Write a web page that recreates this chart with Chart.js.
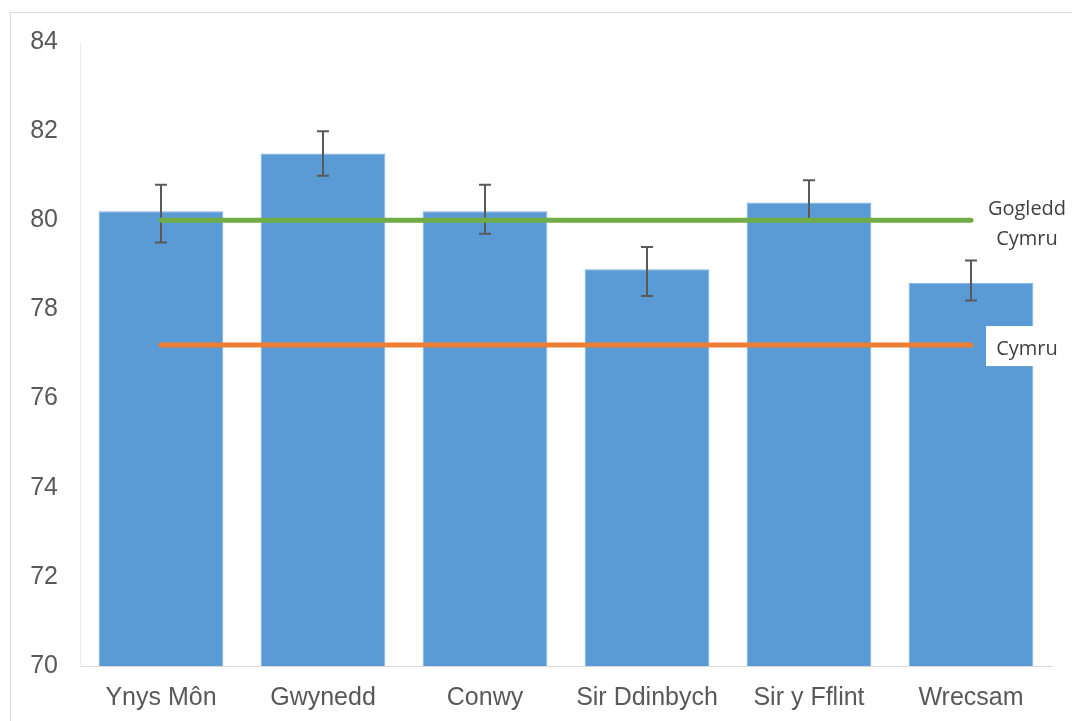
<!DOCTYPE html>
<html>
<head>
<meta charset="utf-8">
<script src="https://cdn.jsdelivr.net/npm/chart.js@4/dist/chart.umd.min.js"></script>
<style>
  html, body { margin: 0; padding: 0; background: #fff; overflow: hidden; }
  #frame { position: absolute; left: 10px; top: 12px; width: 1200px; height: 800px;
           border-left: 1px solid #d9d9d9; border-top: 1px solid #d9d9d9; }
  #wrap { position: absolute; left: 0; top: 0; width: 1072px; height: 721px; }
</style>
</head>
<body>
<div id="frame"></div>
<div id="wrap"><canvas id="myChart" width="1072" height="721"></canvas></div>
<script>
const areas = ["Ynys Môn", "Gwynedd", "Conwy", "Sir Ddinbych", "Sir y Fflint", "Wrecsam"];
const values = [80.2, 81.5, 80.2, 78.9, 80.4, 78.6];
const lowCI = [79.5, 81.0, 79.7, 78.3, 80.0, 78.2];
const highCI = [80.8, 82.0, 80.8, 79.4, 80.9, 79.1];
const northWales = [80.0, 80.0, 80.0, 80.0, 80.0, 80.0];
const wales = [77.2, 77.2, 77.2, 77.2, 77.2, 77.2];
const yTicks = [70, 72, 74, 76, 78, 80, 82, 84];

// error bars on the bar dataset, drawn before the lines go on top
const errorBars = {
  id: "errorBars",
  afterDatasetDraw(chart, args) {
    if (args.index !== 0) return;
    const ctx = chart.ctx;
    const y = chart.scales.y;
    const meta = chart.getDatasetMeta(0);
    ctx.save();
    ctx.strokeStyle = "#595959";
    ctx.lineWidth = 2;
    meta.data.forEach((bar, i) => {
      const top = y.getPixelForValue(highCI[i]);
      const bot = y.getPixelForValue(lowCI[i]);
      ctx.beginPath();
      ctx.moveTo(bar.x, top); ctx.lineTo(bar.x, bot);
      ctx.moveTo(bar.x - 6, top); ctx.lineTo(bar.x + 6, top);
      ctx.moveTo(bar.x - 6, bot); ctx.lineTo(bar.x + 6, bot);
      ctx.stroke();
    });
    ctx.restore();
  }
};

// text at the right end of each reference line
const lineLabels = {
  id: "lineLabels",
  afterDraw(chart) {
    const ctx = chart.ctx;
    ctx.save();
    ctx.font = "20px 'Open Sans'";
    ctx.textAlign = "center";
    ctx.textBaseline = "middle";
    chart.data.datasets.forEach((ds, di) => {
      if (!ds.endLabel) return;
      const pts = chart.getDatasetMeta(di).data;
      const p = pts[pts.length - 1];
      const cx = p.x + 56;
      const lines = ds.endLabel;
      const lh = 30;
      const y0 = p.y + 4 - (lines.length - 1) * lh / 2;
      if (ds.labelBox) {
        ctx.fillStyle = "#fff";
        ctx.fillRect(cx - 41, p.y - 19, 80, 40);
      }
      ctx.fillStyle = "#404040";
      lines.forEach((t, k) => ctx.fillText(t, cx, y0 + k * lh));
    });
    ctx.restore();
  }
};

const ctx = document.getElementById("myChart").getContext("2d");
const myChart = new Chart(ctx, {
  type: "bar",
  data: {
    labels: areas,
    datasets: [
      {
        label: "Ardal",
        data: values,
        backgroundColor: "#5B9BD5",
        borderColor: "#7FB1E0",
        borderWidth: 1,
        categoryPercentage: 1,
        barPercentage: 0.77,
        order: 3,
      },
      {
        type: "line",
        label: "Gogledd Cymru",
        data: northWales,
        borderColor: "#70AD47",
        borderWidth: 5,
        borderCapStyle: "round",
        pointRadius: 0,
        endLabel: ["Gogledd", "Cymru"],
        order: 1,
      },
      {
        type: "line",
        label: "Cymru",
        data: wales,
        borderColor: "#ED7D31",
        borderWidth: 5,
        borderCapStyle: "round",
        pointRadius: 0,
        endLabel: ["Cymru"],
        labelBox: true,
        order: 2,
      },
    ],
  },
  options: {
    responsive: false,
    animation: false,
    layout: { padding: { top: 42, right: 20, bottom: 0, left: 0 } },
    plugins: { legend: { display: false }, tooltip: { enabled: false } },
    scales: {
      x: {
        grid: { display: false, drawTicks: false },
        border: { color: "#d9d9d9", width: 1 },
        ticks: { color: "#595959", font: { family: "'Liberation Sans', Arial", size: 25 }, padding: 17, maxRotation: 0 },
        afterFit: (s) => { s.height = 55; },
      },
      y: {
        min: 70,
        max: 84,
        afterBuildTicks: (s) => { s.ticks = yTicks.map((v) => ({ value: v })); },
        grid: { display: false, drawTicks: false },
        border: { color: "#ececec", width: 1 },
        ticks: { color: "#595959", font: { family: "'Liberation Sans', Arial", size: 25 }, padding: 22 },
        afterFit: (s) => { s.width = 80; },
      },
    },
  },
  plugins: [errorBars, lineLabels],
});
</script>
</body>
</html>
